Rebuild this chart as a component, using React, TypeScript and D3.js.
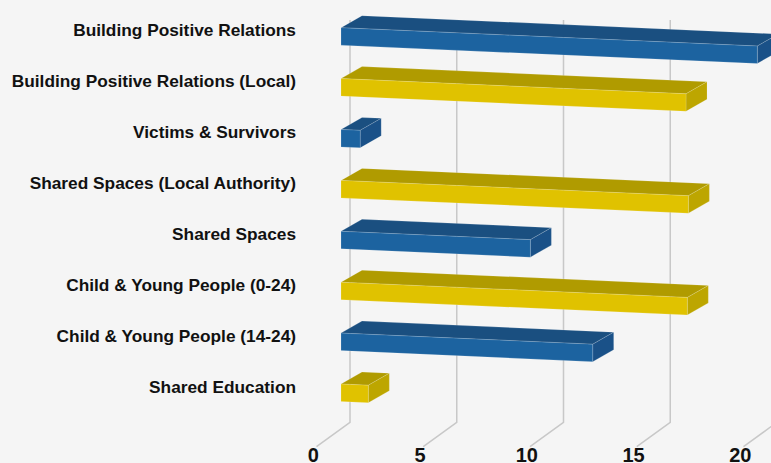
import React from "react";
import * as d3 from "d3";

const categories = [
  "Building Positive Relations",
  "Building Positive Relations (Local)",
  "Victims & Survivors",
  "Shared Spaces (Local Authority)",
  "Shared Spaces",
  "Child & Young People (0-24)",
  "Child & Young People (14-24)",
  "Shared Education",
];
const values = [19.5, 16.16, 0.9, 16.27, 8.87, 16.22, 11.79, 1.28];
const tickValues = [0, 5, 10, 15, 20];

const palette = [
  { front: "#1c63a0", top: "#1a4f80", side: "#1a5188" },
  { front: "#e0c200", top: "#b09b00", side: "#bda600" },
];

const W = 771;
const H = 463;

export default function App() {
  const x = d3.scaleLinear().domain([0, 20]).range([341, 341 + 20 * 21.35]);
  const y = d3.scalePoint<string>().domain(categories).range([27.7, 384]);

  const barH = 17.5;
  const dx = 21;
  const dy = -12;
  const slope = 0.044;
  const gridShift = 9;
  const gridTop = 20;
  const gridBottom = 422.3;
  const floorDx = -33.5;
  const floorDy = 24.4;

  const line = d3.line<[number, number]>();

  const x0 = x(0);

  return (
    <svg
      width={W}
      height={H}
      style={{ position: "absolute", left: 0, top: 0, background: "#f5f5f5" }}
    >
      <rect x={0} y={0} width={W} height={H} fill="#f5f5f5" />
      {tickValues.map((t) => {
        const gx = x(t) + gridShift;
        return (
          <g key={t}>
            <path
              d={
                line([
                  [gx, gridTop],
                  [gx, gridBottom],
                  [gx + floorDx, gridBottom + floorDy],
                ]) || ""
              }
              fill="none"
              stroke="#c8c8c8"
              strokeWidth={1.5}
            />
            <text
              x={x(t) - 27.7}
              y={462}
              textAnchor="middle"
              fontFamily="'Liberation Sans', Arial, sans-serif"
              fontWeight="bold"
              fontSize={20}
              fill="#111"
            >
              {t}
            </text>
          </g>
        );
      })}
      {categories.map((c, i) => {
        const v = values[i];
        const col = palette[i % 2];
        const rt = y(c) as number;
        const x1 = x(v);
        const yt = (xx: number) => rt + slope * (xx - x0);
        const front: [number, number][] = [
          [x0, yt(x0)],
          [x1, yt(x1)],
          [x1, yt(x1) + barH],
          [x0, yt(x0) + barH],
        ];
        const top: [number, number][] = [
          [x0, yt(x0)],
          [x1, yt(x1)],
          [x1 + dx, yt(x1) + dy],
          [x0 + dx, yt(x0) + dy],
        ];
        const side: [number, number][] = [
          [x1, yt(x1)],
          [x1 + dx, yt(x1) + dy],
          [x1 + dx, yt(x1) + dy + barH],
          [x1, yt(x1) + barH],
        ];
        const poly = (p: [number, number][]) => (line(p) || "") + "Z";
        return (
          <g key={c}>
            <path d={poly(top)} fill={col.top} stroke="rgba(255,255,255,0.25)" strokeWidth={0.6} />
            <path d={poly(side)} fill={col.side} stroke="rgba(255,255,255,0.25)" strokeWidth={0.6} />
            <path d={poly(front)} fill={col.front} stroke="rgba(255,255,255,0.25)" strokeWidth={0.6} />
          </g>
        );
      })}
      {categories.map((c) => (
        <text
          key={c}
          x={296}
          y={(y(c) as number) + 8.7}
          textAnchor="end"
          fontFamily="'Liberation Sans', Arial, sans-serif"
          fontWeight="bold"
          fontSize={17.3}
          fill="#111"
        >
          {c}
        </text>
      ))}
    </svg>
  );
}
